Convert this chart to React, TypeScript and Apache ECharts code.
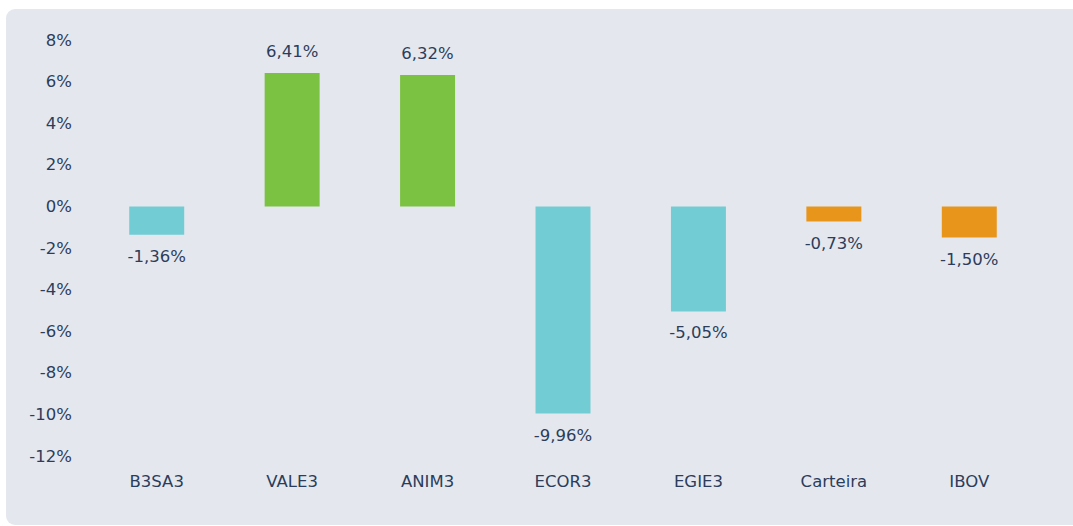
import React, { useEffect, useRef } from "react";
import * as echarts from "echarts";

const categories = ["B3SA3", "VALE3", "ANIM3", "ECOR3", "EGIE3", "Carteira", "IBOV"];
const values = [-1.36, 6.41, 6.32, -9.96, -5.05, -0.73, -1.5];
const barColors = ["#72ccd4", "#7cc242", "#7cc242", "#72ccd4", "#72ccd4", "#e8951c", "#e8951c"];
const yTicks = { min: -12, max: 8, interval: 2 };

const TEXT = "#2c3d5b";
const FONT = "'DejaVu Sans', sans-serif";
const FS = 16.5;

const fmt = (v: number) => v.toFixed(2).replace(".", ",") + "%";

export default function App() {
  const ref = useRef<HTMLDivElement>(null);
  useEffect(() => {
    if (!ref.current) return;
    const chart = echarts.init(ref.current, undefined, { renderer: "svg" });
    chart.setOption({
      animation: false,
      backgroundColor: "transparent",
      grid: { left: 83, right: 36, top: 31, bottom: 70 },
      xAxis: {
        type: "category",
        data: categories,
        axisLine: { show: false },
        axisTick: { show: false },
        axisLabel: { color: TEXT, fontSize: FS, fontFamily: FONT, margin: 17 },
      },
      yAxis: {
        type: "value",
        min: yTicks.min,
        max: yTicks.max,
        interval: yTicks.interval,
        axisLine: { show: false },
        axisTick: { show: false },
        splitLine: { show: false },
        axisLabel: {
          color: TEXT,
          fontSize: FS,
          fontFamily: FONT,
          margin: 17,
          formatter: (v: number) => v + "%",
        },
      },
      series: [
        {
          type: "bar",
          barWidth: "40.6%",
          data: values.map((v, i) => ({
            value: v,
            itemStyle: { color: barColors[i] },
            label: {
              show: true,
              position: v >= 0 ? "top" : "bottom",
              distance: 13,
              color: TEXT,
              fontSize: FS,
              fontFamily: FONT,
              formatter: () => fmt(v),
            },
          })),
        },
      ],
    });
    return () => chart.dispose();
  }, []);
  return (
    <div style={{ position: "absolute", left: 0, top: 0, width: 1073, height: 526, overflow: "hidden", background: "#fff" }}>
      <div
        style={{
          position: "absolute",
          left: 6,
          top: 9,
          width: 1090,
          height: 516,
          borderRadius: 9,
          background: "#e4e8ee",
        }}
      />
      <div ref={ref} style={{ position: "absolute", left: 6, top: 9, width: 1067, height: 517 }} />
    </div>
  );
}
